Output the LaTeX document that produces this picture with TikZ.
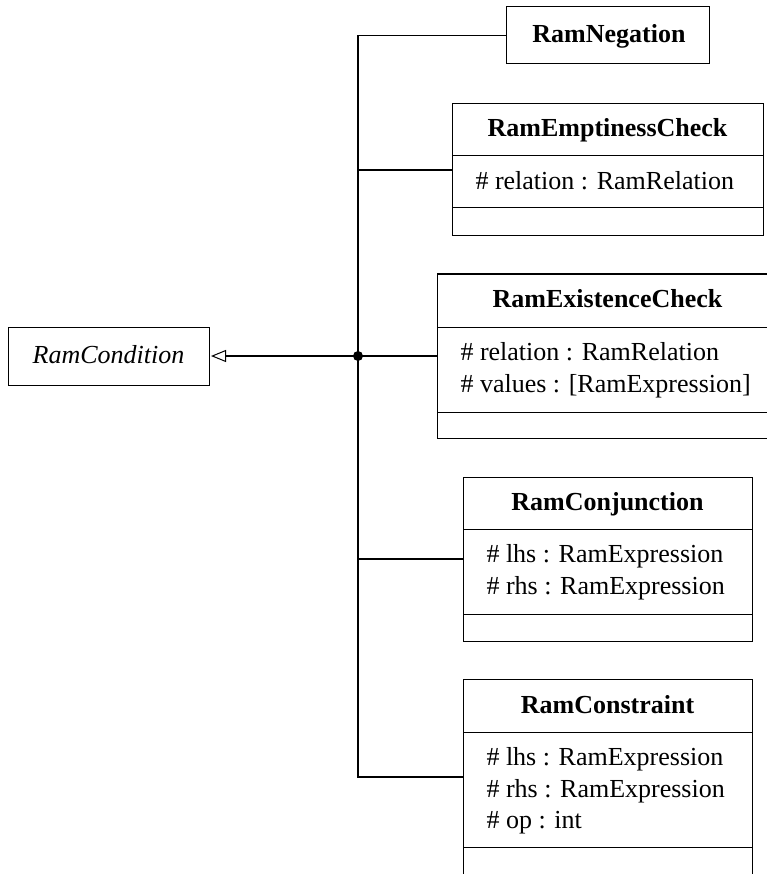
\documentclass[tikz,border=0pt]{standalone}
\usepackage{fontspec}
\setmainfont{Liberation Serif}
\usetikzlibrary{arrows.meta}
\begin{document}
\begin{tikzpicture}[x=1pt,y=-1pt,
  line width=1pt,
  classbox/.style={draw, rectangle, inner sep=0pt, outer sep=0pt},
  hdr/.style={anchor=base, inner sep=0pt, font=\fontsize{26}{32}\selectfont\bfseries},
  attr/.style={anchor=base west, inner sep=0pt, font=\fontsize{26}{32}\selectfont},
  conn/.style={line width=1.1pt}
]
\useasboundingbox (0,0) rectangle (767,874);

% abstract base class
\node[classbox, minimum width=201pt, minimum height=58pt] (cond) at (108.5,356) {};
\node[anchor=base, inner sep=0pt, font=\fontsize{26}{32}\selectfont\itshape] (condT) at (108.5,363) {RamCondition};

% RamNegation
\node[classbox, minimum width=203pt, minimum height=57pt] (neg) at (607.5,35.5) {};
\node[hdr] (negT) at (609,43) {RamNegation};

% RamEmptinessCheck
\node[classbox, minimum width=311pt, minimum height=132pt] (emp) at (607.5,170) {};
\draw ([yshift=-52pt]emp.north west) -- ([yshift=-52pt]emp.north east);
\draw ([yshift=-104pt]emp.north west) -- ([yshift=-104pt]emp.north east);
\node[hdr] (empT) at ([yshift=-33pt]emp.north) {RamEmptinessCheck};
\node[attr] (empA1) at ([xshift=23pt,yshift=-86pt]emp.north west) {\# relation : RamRelation};

% RamExistenceCheck
\node[classbox, minimum width=341pt, minimum height=164pt] (exi) at (607.5,356) {};
\draw ([yshift=-53pt]exi.north west) -- ([yshift=-53pt]exi.north east);
\draw ([yshift=-138pt]exi.north west) -- ([yshift=-138pt]exi.north east);
\node[hdr] (exiT) at ([yshift=-33pt]exi.north) {RamExistenceCheck};
\node[attr] (exiA1) at ([xshift=23pt,yshift=-86pt]exi.north west) {\# relation : RamRelation};
\node[attr] (exiA2) at ([xshift=23pt,yshift=-118pt]exi.north west) {\# values : [RamExpression]};

% RamConjunction
\node[classbox, minimum width=289pt, minimum height=164pt] (con) at (607.5,559) {};
\draw ([yshift=-52pt]con.north west) -- ([yshift=-52pt]con.north east);
\draw ([yshift=-137pt]con.north west) -- ([yshift=-137pt]con.north east);
\node[hdr] (conT) at ([yshift=-33pt]con.north) {RamConjunction};
\node[attr] (conA1) at ([xshift=23pt,yshift=-85pt]con.north west) {\# lhs : RamExpression};
\node[attr] (conA2) at ([xshift=23pt,yshift=-117pt]con.north west) {\# rhs : RamExpression};

% RamConstraint
\node[classbox, minimum width=289pt, minimum height=196pt] (cst) at (607.5,777) {};
\draw ([yshift=-53pt]cst.north west) -- ([yshift=-53pt]cst.north east);
\draw ([yshift=-168pt]cst.north west) -- ([yshift=-168pt]cst.north east);
\node[hdr] (cstT) at ([yshift=-34pt]cst.north) {RamConstraint};
\node[attr] (cstA1) at ([xshift=23pt,yshift=-86pt]cst.north west) {\# lhs : RamExpression};
\node[attr] (cstA2) at ([xshift=23pt,yshift=-118pt]cst.north west) {\# rhs : RamExpression};
\node[attr] (cstA3) at ([xshift=23pt,yshift=-149pt]cst.north west) {\# op : int};

% generalization tree
\coordinate (j) at (358,356);
\draw[conn, -{Triangle[open, length=15pt, width=12pt, line width=1pt]}, shorten >=2pt] (j) -- (cond.east);
\draw[conn] (j) |- (neg.west);
\draw[conn] (j) |- (emp.west);
\draw[conn] (j) -- (exi.west);
\draw[conn] (j) |- (con.west);
\draw[conn] (j) |- (cst.west);
\fill (j) circle (5pt);
\end{tikzpicture}
\end{document}
